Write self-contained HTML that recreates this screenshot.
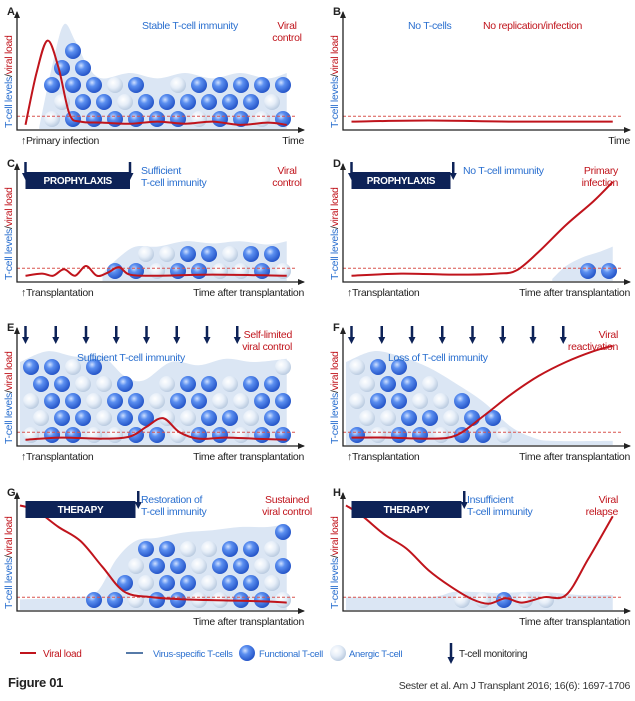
<!DOCTYPE html>
<html><head><meta charset="utf-8"><style>
body{margin:0;background:#fff;width:635px;height:696px;overflow:hidden}
text{font-family:"Liberation Sans",sans-serif;letter-spacing:-0.3px}
</style></head><body>
<svg id="fig" width="635" height="696" viewBox="0 0 635 696" xmlns="http://www.w3.org/2000/svg">
<defs>
<radialGradient id="gf" cx="0.38" cy="0.35" r="0.7"><stop offset="0" stop-color="#cfe0ff"/><stop offset="0.35" stop-color="#5b8ff0"/><stop offset="1" stop-color="#1f4fc4"/></radialGradient>
<radialGradient id="ga" cx="0.38" cy="0.35" r="0.7"><stop offset="0" stop-color="#ffffff"/><stop offset="0.5" stop-color="#e6eef8"/><stop offset="1" stop-color="#b5c7dd"/></radialGradient>
</defs>
<g id="root"></g>
</svg>
<script>
// x = time fraction, v = level fraction
const aVX=[0.02,0.06,0.1,0.14,0.18,0.22,0.3,0.4,0.5,0.6,0.7,0.8,0.9,0.97];
const aV=[0.02,0.5,0.8,0.55,0.12,0.05,0.04,0.03,0.05,0.03,0.05,0.02,0.04,0.02];
const aTX=[0.07,0.12,0.16,0.2,0.25,0.3,0.4,0.5,0.6,0.7,0.8,0.9,0.97];
const aT=[0,0.6,0.95,0.8,0.55,0.45,0.5,0.45,0.5,0.45,0.5,0.45,0.5];
const bVX=[0.02,0.3,0.6,0.97];
const bV=[0.05,0.06,0.05,0.05];
const cVX=[0.02,0.08,0.12,0.16,0.2,0.24,0.28,0.32,0.36,0.4,0.5,0.7,0.97];
const cV=[0.03,0.05,0.03,0.09,0.03,0.12,0.03,0.06,0.11,0.04,0.03,0.04,0.03];
const cTX=[0.3,0.36,0.42,0.5,0.6,0.7,0.8,0.9,0.97];
const cT=[0.05,0.2,0.3,0.3,0.35,0.33,0.35,0.32,0.35];
const dVX=[0.02,0.2,0.4,0.55,0.62,0.7,0.8,0.9,0.97];
const dV=[0.03,0.05,0.04,0.05,0.08,0.25,0.5,0.72,0.9];
const dTX=[0.75,0.8,0.86,0.92,0.97];
const dT=[0,0.12,0.2,0.25,0.3];
const eVX=[0.02,0.15,0.3,0.4,0.46,0.52,0.58,0.65,0.75,0.85,0.97];
const eV=[0.03,0.05,0.04,0.06,0.15,0.23,0.1,0.04,0.05,0.04,0.03];
const eTX=[0.0,0.1,0.2,0.3,0.38,0.45,0.55,0.65,0.75,0.85,0.97];
const eT=[0.75,0.85,0.8,0.8,0.62,0.58,0.75,0.72,0.78,0.75,0.78];
const fVX=[0.02,0.15,0.3,0.4,0.5,0.6,0.7,0.8,0.9,0.97];
const fV=[0.05,0.05,0.04,0.07,0.25,0.45,0.62,0.75,0.85,0.9];
const fTX=[0.0,0.1,0.2,0.3,0.4,0.5,0.6,0.68,0.75,0.97];
const fT=[0.75,0.85,0.8,0.7,0.55,0.38,0.15,0.05,0.02,0.02];
const gVX=[0.0,0.06,0.14,0.22,0.3,0.38,0.48,0.6,0.75,0.9,0.97];
const gV=[0.95,0.9,0.75,0.62,0.38,0.15,0.1,0.08,0.07,0.06,0.05];
const gTX=[0.0,0.2,0.28,0.35,0.42,0.5,0.6,0.7,0.8,0.9,0.97];
const gT=[0.08,0.1,0.15,0.45,0.62,0.65,0.7,0.72,0.75,0.75,0.78];
const hVX=[0.0,0.06,0.14,0.22,0.3,0.38,0.46,0.52,0.58,0.64,0.72,0.8,0.88,0.97];
const hV=[0.95,0.85,0.68,0.55,0.35,0.2,0.08,0.04,0.09,0.05,0.1,0.12,0.45,0.85];
const hTX=[0.0,0.3,0.4,0.55,0.7,0.85,0.97];
const hT=[0.1,0.1,0.15,0.14,0.15,0.12,0.12];

const NS="http://www.w3.org/2000/svg";
const root=document.getElementById('root');
function mk(tag,at,parent){const e=document.createElementNS(NS,tag);for(const k in at)e.setAttribute(k,at[k]);(parent||root).appendChild(e);return e;}
function txt(x,y,s,fill,size,anchor,weight,parent){const t=mk('text',{x:x,y:y,fill:fill,'font-size':size,'text-anchor':anchor||'start','font-weight':weight||'normal'},parent);t.textContent=s;return t;}
function smooth(pts){let d='M'+pts[0][0]+','+pts[0][1];for(let i=0;i<pts.length-1;i++){const p0=pts[i-1]||pts[i],p1=pts[i],p2=pts[i+1],p3=pts[i+2]||p2;
d+=' C'+(p1[0]+(p2[0]-p0[0])/6)+','+(p1[1]+(p2[1]-p0[1])/6)+' '+(p2[0]-(p3[0]-p1[0])/6)+','+(p2[1]-(p3[1]-p1[1])/6)+' '+p2[0]+','+p2[1];}return d;}
function interp(xs,vs,x){if(x<xs[0]||x>xs[xs.length-1])return -1;for(let i=0;i<xs.length-1;i++){if(x<=xs[i+1]){const t=(x-xs[i])/(xs[i+1]-xs[i]);return vs[i]+t*(vs[i+1]-vs[i]);}}return vs[vs.length-1];}

const W=275,H=118;
function panel(o){
  const g=mk('g',{});
  
  
  const X=f=>o.x0+3+f*W, Y=v=>o.by-3-v*(H-10);
  if(o.tx){
    const pts=o.tx.map((x,i)=>[X(x),Y(o.t[i])]);
    const env=mk('path',{d:smooth(pts)+' L'+X(o.tx[o.tx.length-1])+','+(o.by-1)+' L'+X(o.tx[0])+','+(o.by-1)+' Z',fill:'#dbe6f4',stroke:'none'},g);
    
    
    let r=0;
    for(let cy=o.by-11;cy>o.by-H;cy-=17,r++){
      for(let cx=o.x0+14+(r%2)*10;cx<o.x0+W;cx+=21){
        const f=(cx-o.x0-3)/W;
        const v=interp(o.tx,o.t,f);
        if(v<0)continue;
        if(cy-7<Y(v))continue;
        const h=(cx*7+cy*13)%10;
        const c=mk('circle',{cx:cx,cy:cy,r:8,fill:h<(o.an||2)?'url(#ga)':'url(#gf)'},g);
        
        
      }
    }
  }
  const th=mk('line',{x1:o.x0,x2:o.x0+W+5,y1:Y(0.1),y2:Y(0.1),stroke:'#d9534f','stroke-width':1,'stroke-dasharray':'3,2'},g);
  
  
  const vp=mk('path',{d:smooth(o.vx.map((x,i)=>[X(x),Y(o.v[i])])),fill:'none',stroke:'#c0141c','stroke-width':2},g);
  
  
  const ax=mk('path',{d:'M'+o.x0+','+(o.by-H)+' L'+o.x0+','+o.by+' L'+(o.x0+W+12)+','+o.by,fill:'none',stroke:'#222','stroke-width':1.3},g);
  
  
  mk('path',{d:'M'+(o.x0-3)+','+(o.by-H+6)+' L'+o.x0+','+(o.by-H-1)+' L'+(o.x0+3)+','+(o.by-H+6)+' Z',fill:'#222'},g);
  mk('path',{d:'M'+(o.x0+W+6)+','+(o.by-3)+' L'+(o.x0+W+13)+','+o.by+' L'+(o.x0+W+6)+','+(o.by+3)+' Z',fill:'#222'},g);
  const lt=txt(o.x0-10,o.by-H+3,o.id,'#222',11,'start','bold',g);
  
  
  const yl=mk('text',{transform:'translate('+(o.x0-5)+','+(o.by-2)+') rotate(-90)','font-size':10.5},g);
  
  
  yl.innerHTML='<tspan fill="#2a6fcf">T-cell levels</tspan><tspan fill="#222">/</tspan><tspan fill="#c0141c">viral load</tspan>';
  const xl=txt(o.x0+W+12,o.by+14,o.xlab,'#222',10.5,'end','normal',g);
  
  
  if(o.start){const s=txt(o.x0+4,o.by+14,'↑'+o.start,'#222',10.5,'start','normal',g);
    }
  if(o.box){const bx=mk('rect',{x:X(o.box[0]),y:o.by-H+8,width:(o.box[1]-o.box[0])*W,height:17,fill:'#0d2257'},g);
    
    txt(X((o.box[0]+o.box[1])/2),o.by-H+20,o.boxt,'#fff',10,'middle','bold',g);}
  (o.arrows||[]).forEach(a=>{const ar=mk('path',{d:'M'+X(a)+','+(o.by-H-2)+' L'+X(a)+','+(o.by-H+11),stroke:'#0d2257','stroke-width':2.5},g);
    
    mk('path',{d:'M'+(X(a)-3.5)+','+(o.by-H+9)+' L'+X(a)+','+(o.by-H+16)+' L'+(X(a)+3.5)+','+(o.by-H+9)+' Z',fill:'#0d2257'},g);});
  (o.texts||[]).forEach(t=>{t[2].forEach((s,i)=>{const e=txt(o.x0+t[0],o.by-H+t[1]+i*12,s,t[3],10.5,t[4]||'start','normal',g);
    });});
}
const ev=[0.02,0.13,0.24,0.35,0.46,0.57,0.68,0.79];
const BL='#2a6fcf',RD='#c0141c';
panel({id:'A',x0:17,by:130,vx:aVX,v:aV,tx:aTX,t:aT,an:2,xlab:'Time',start:'Primary infection',
  texts:[[125,17,['Stable T-cell immunity'],BL],[270,17,['Viral','control'],RD,'middle']]});
panel({id:'B',x0:343,by:130,vx:bVX,v:bV,xlab:'Time',
  texts:[[65,17,['No T-cells'],BL],[140,17,['No replication/infection'],RD]]});
panel({id:'C',x0:17,by:282,vx:cVX,v:cV,tx:cTX,t:cT,an:5,xlab:'Time after transplantation',start:'Transplantation',
  box:[0.02,0.4],boxt:'PROPHYLAXIS',arrows:[0.02,0.4],
  texts:[[124,10,['Sufficient','T-cell immunity'],BL],[270,10,['Viral','control'],RD,'middle']]});
panel({id:'D',x0:343,by:282,vx:dVX,v:dV,tx:dTX,t:dT,an:5,xlab:'Time after transplantation',start:'Transplantation',
  box:[0.02,0.38],boxt:'PROPHYLAXIS',arrows:[0.02,0.39],
  texts:[[120,10,['No T-cell immunity'],BL],[275,10,['Primary','infection'],RD,'end']]});
panel({id:'E',x0:17,by:446,vx:eVX,v:eV,tx:eTX,t:eT,an:4,xlab:'Time after transplantation',start:'Transplantation',arrows:ev,
  texts:[[60,33,['Sufficient T-cell immunity'],BL],[275,10,['Self-limited','viral control'],RD,'end']]});
panel({id:'F',x0:343,by:446,vx:fVX,v:fV,tx:fTX,t:fT,an:4,xlab:'Time after transplantation',start:'Transplantation',arrows:ev,
  texts:[[45,33,['Loss of T-cell immunity'],BL],[275,10,['Viral','reactivation'],RD,'end']]});
panel({id:'G',x0:17,by:611,vx:gVX,v:gV,tx:gTX,t:gT,an:4,xlab:'Time after transplantation',
  box:[0.02,0.42],boxt:'THERAPY',arrows:[0.43],
  texts:[[124,10,['Restoration of','T-cell immunity'],BL],[270,10,['Sustained','viral control'],RD,'middle']]});
panel({id:'H',x0:343,by:611,vx:hVX,v:hV,tx:hTX,t:hT,an:6,xlab:'Time after transplantation',
  box:[0.02,0.42],boxt:'THERAPY',arrows:[0.43],
  texts:[[124,10,['Insufficient','T-cell immunity'],BL],[275,10,['Viral','relapse'],RD,'end']]});
const lg=mk('g',{});


mk('line',{x1:20,x2:36,y1:653,y2:653,stroke:RD,'stroke-width':2},lg);
txt(43,657,'Viral load',RD,10,'start','normal',lg);
mk('line',{x1:126,x2:143,y1:653,y2:653,stroke:'#1f4f8c','stroke-width':1.5},lg);
txt(153,657,'Virus-specific T-cells',BL,9.5,'start','normal',lg);
mk('circle',{cx:247,cy:653,r:8,fill:'url(#gf)'},lg);
txt(259,657,'Functional T-cell',BL,9.5,'start','normal',lg);
mk('circle',{cx:338,cy:653,r:8,fill:'url(#ga)'},lg);
txt(349,657,'Anergic T-cell',BL,9.5,'start','normal',lg);
mk('path',{d:'M451,643 L451,660',stroke:'#0d2257','stroke-width':2.5},lg);
mk('path',{d:'M447.5,657 L451,664 L454.5,657 Z',fill:'#0d2257'},lg);
txt(459,657,'T-cell monitoring','#222',10,'start','normal',lg);
const fg=txt(8,687,'Figure 01','#222',13,'start','bold');


const ct=txt(630,689,'Sester et al. Am J Transplant 2016; 16(6): 1697-1706','#333',10.5,'end');


</script>
</body></html>
